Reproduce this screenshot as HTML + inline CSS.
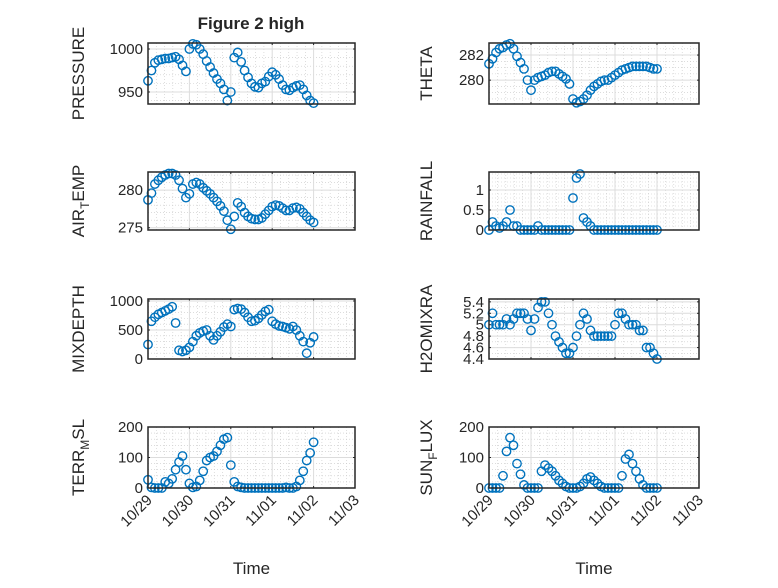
<!DOCTYPE html>
<html><head><meta charset="utf-8"><style>
body{margin:0;background:#fff}
svg text{font-family:"Liberation Sans",sans-serif;fill:#262626}
</style></head><body>
<svg id="fig" width="778" height="583" viewBox="0 0 778 583" xmlns="http://www.w3.org/2000/svg"></svg>
<script>
const xTickLabels=["10/29","10/30","10/31","11/01","11/02","11/03"];
const pressure=[963,975,984,987,988,989,989,990,991,988,981,974,1000,1006,1005,1000,994,986,979,972,965,960,953,940,950,990,996,985,975,967,960,956,955,960,962,968,973,970,965,958,953,952,955,957,958,953,946,940,937];
const theta=[281.3,281.7,282.2,282.5,282.6,282.8,282.9,282.5,281.9,281.4,280.9,280.0,279.2,280.0,280.2,280.3,280.4,280.6,280.7,280.7,280.5,280.3,280.1,279.7,278.5,278.2,278.3,278.5,278.8,279.2,279.5,279.7,279.9,280.0,280.0,280.2,280.4,280.6,280.8,280.9,281.0,281.1,281.1,281.1,281.1,281.1,281.0,280.9,280.9];
const airTemp=[278.7,279.6,280.8,281.3,281.7,282.0,282.2,282.2,282.0,281.3,280.2,279.0,279.5,280.8,281.0,280.8,280.3,279.9,279.5,279.0,278.5,277.9,277.2,276.0,274.8,276.5,278.3,277.8,277.0,276.5,276.2,276.1,276.1,276.3,276.8,277.3,277.8,278.0,277.9,277.6,277.3,277.3,277.6,277.7,277.5,277.0,276.5,276.0,275.7];
const rainfall=[0,0.2,0.1,0.05,0.1,0.2,0.5,0.1,0.1,0,0,0,0,0,0.1,0,0,0,0,0,0,0,0,0,0.8,1.3,1.4,0.3,0.2,0.1,0,0,0,0,0,0,0,0,0,0,0,0,0,0,0,0,0,0,0];
const mixDepth=[250,650,720,770,800,830,860,900,620,150,130,150,200,300,400,450,480,500,400,330,400,470,550,600,560,850,870,860,800,720,650,660,700,760,820,850,650,600,570,560,540,520,560,500,400,300,100,280,380];
const h2oMix=[5.0,5.2,5.0,5.0,5.0,5.1,5.0,5.1,5.2,5.2,5.2,5.1,4.9,5.1,5.3,5.4,5.4,5.2,5.0,4.8,4.7,4.6,4.5,4.5,4.6,4.8,5.0,5.2,5.1,4.9,4.8,4.8,4.8,4.8,4.8,4.8,5.0,5.2,5.2,5.1,5.0,5.0,5.0,4.9,4.9,4.6,4.6,4.5,4.4];
const terrMsl=[27,2,0,0,0,20,15,30,60,85,105,60,15,2,5,25,55,90,100,105,120,140,160,165,75,20,5,2,0,0,0,0,0,0,0,0,0,0,0,0,2,0,0,5,25,55,90,115,150];
const sunFlux=[0,0,0,0,40,120,165,140,80,45,10,0,0,0,0,55,75,65,55,40,25,15,5,0,0,0,5,15,30,36,25,15,5,0,0,0,0,0,40,95,110,80,55,30,10,0,0,0,0];
const times=pressure.map((_,i)=>i/12);

const svg=document.getElementById('fig');
const NS='http://www.w3.org/2000/svg';
function mk(tag,attrs,parent){const e=document.createElementNS(NS,tag);for(const k in attrs)e.setAttribute(k,attrs[k]);(parent||svg).appendChild(e);return e;}

const panels=[
 {name:'pressure',label:['PRESSURE'],data:pressure,x0:148,x1:355,y0:43,y1:104,ymin:936,ymax:1007,ticks:[950,1000],minor:10,col:0},
 {name:'theta',label:['THETA'],data:theta,x0:489,x1:699,y0:43,y1:104,ymin:278.1,ymax:282.96,ticks:[280,282],minor:0.5,col:1},
 {name:'air-temp',label:['AIR','T','EMP'],data:airTemp,x0:148,x1:355,y0:172,y1:230,ymin:274.7,ymax:282.4,ticks:[275,280],minor:1,col:0},
 {name:'rainfall',label:['RAINFALL'],data:rainfall,x0:489,x1:699,y0:172,y1:230,ymin:0,ymax:1.45,ticks:[0,0.5,1],minor:0.1,col:1},
 {name:'mixdepth',label:['MIXDEPTH'],data:mixDepth,x0:148,x1:355,y0:299,y1:359,ymin:0,ymax:1034,ticks:[0,500,1000],minor:100,col:0},
 {name:'h2omixra',label:['H2OMIXRA'],data:h2oMix,x0:489,x1:699,y0:299,y1:359,ymin:4.4,ymax:5.45,ticks:[4.4,4.6,4.8,5,5.2,5.4],minor:0.1,col:1},
 {name:'terr-msl',label:['TERR','M','SL'],data:terrMsl,x0:148,x1:355,y0:427,y1:488,ymin:0,ymax:200,ticks:[0,100,200],minor:20,col:0,xl:true},
 {name:'sun-flux',label:['SUN','F','LUX'],data:sunFlux,x0:489,x1:699,y0:427,y1:488,ymin:0,ymax:200,ticks:[0,100,200],minor:20,col:1,xl:true}
];

panels.forEach(p=>{
 const g=mk('g',{});
 
 
 const sx=d=>p.x0+(p.x1-p.x0)*d/5;
 const sy=v=>p.y1-(p.y1-p.y0)*(v-p.ymin)/(p.ymax-p.ymin);
 for(let d=0;d<5;d+=0.2){const x=sx(d);if(Math.abs(d-Math.round(d))<1e-6)continue;mk('line',{x1:x,x2:x,y1:p.y0,y2:p.y1,stroke:'#c8c8c8','stroke-width':0.6,'stroke-dasharray':'1 2'},g);}
 const start=Math.ceil(p.ymin/p.minor)*p.minor;
 for(let v=start;v<=p.ymax+1e-9;v+=p.minor){if(p.ticks.some(t=>Math.abs(t-v)<1e-6))continue;const y=sy(v);mk('line',{x1:p.x0,x2:p.x1,y1:y,y2:y,stroke:'#c8c8c8','stroke-width':0.6,'stroke-dasharray':'1 2'},g);}
 for(let d=1;d<5;d++){const x=sx(d);mk('line',{x1:x,x2:x,y1:p.y0,y2:p.y1,stroke:'#dcdcdc','stroke-width':1},g);
   mk('line',{x1:x,x2:x,y1:p.y1,y2:p.y1-2,stroke:'#262626'},g);mk('line',{x1:x,x2:x,y1:p.y0,y2:p.y0+2,stroke:'#262626'},g);}
 p.ticks.forEach(t=>{const y=sy(t);mk('line',{x1:p.x0,x2:p.x1,y1:y,y2:y,stroke:'#dcdcdc','stroke-width':1},g);
   mk('line',{x1:p.x0,x2:p.x0+2,y1:y,y2:y,stroke:'#262626'},g);mk('line',{x1:p.x1,x2:p.x1-2,y1:y,y2:y,stroke:'#262626'},g);
   const tl=mk('text',{x:p.x0-5,y:y+5,'text-anchor':'end','font-size':15},g);tl.textContent=String(t);
   
   });
 p.data.forEach((v,i)=>{const c=mk('circle',{cx:sx(times[i]),cy:sy(v),r:4.2,fill:'none',stroke:'#0072BD','stroke-width':1.4},g);
   
   });
 mk('rect',{x:p.x0,y:p.y0,width:p.x1-p.x0,height:p.y1-p.y0,fill:'none',stroke:'#262626','stroke-width':1.5},g);
 const lx=p.col===0?84:432, ly=(p.y0+p.y1)/2;
 const yl=mk('text',{transform:`translate(${lx},${ly}) rotate(-90)`,'text-anchor':'middle','font-size':17},g);
 
 
 if(p.label.length===1){yl.textContent=p.label[0];}
 else{const a=mk('tspan',{},yl);a.textContent=p.label[0];const b=mk('tspan',{dy:5,'font-size':12},yl);b.textContent=p.label[1];const c=mk('tspan',{dy:-5},yl);c.textContent=p.label[2];}
 if(p.xl){
   xTickLabels.forEach((s,d)=>{const x=sx(d);const t=mk('text',{transform:`translate(${x+5},${p.y1+13}) rotate(-45)`,'text-anchor':'end','font-size':15},g);t.textContent=s;
     
     });
   const xt=mk('text',{x:(p.x0+p.x1)/2,y:574,'text-anchor':'middle','font-size':17},g);xt.textContent='Time';
   
   
 }
});
const title=mk('text',{x:251,y:29,'text-anchor':'middle','font-size':17,'font-weight':'bold'});
title.textContent='Figure 2 high';


</script>
</body></html>
